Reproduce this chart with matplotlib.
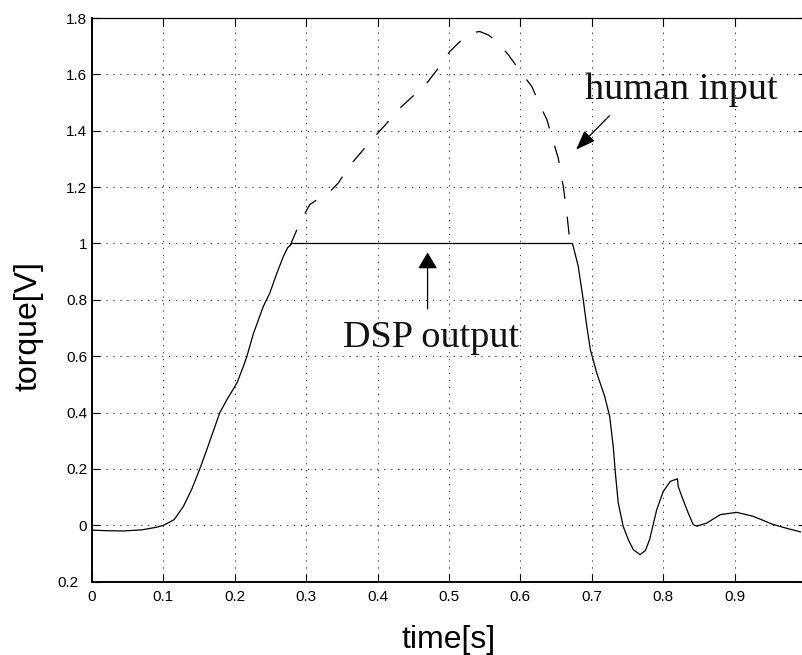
import matplotlib
matplotlib.use('Agg')
import matplotlib.pyplot as plt
import matplotlib.transforms as mtrans

plt.rcParams['lines.scale_dashes'] = False

# DSP output (solid) - time [s], torque [V]
dsp_t = [0.0, 0.02, 0.044, 0.07, 0.09, 0.1, 0.115, 0.128, 0.14, 0.151, 0.161,
         0.17, 0.179, 0.189, 0.203, 0.212, 0.217, 0.226, 0.24, 0.249, 0.259,
         0.268, 0.274, 0.28, 0.673, 0.681, 0.688, 0.693, 0.698, 0.707, 0.718,
         0.725, 0.73, 0.733, 0.737, 0.744, 0.751, 0.758, 0.7675, 0.775, 0.781,
         0.791, 0.8, 0.81, 0.82, 0.821, 0.826, 0.835, 0.842, 0.847, 0.861,
         0.88, 0.903, 0.926, 0.954, 0.975, 0.992]
dsp_v = [-0.017, -0.019, -0.02, -0.016, -0.007, 0.0, 0.02, 0.067, 0.13, 0.2, 0.27,
         0.335, 0.40, 0.446, 0.505, 0.564, 0.6, 0.68, 0.777, 0.824, 0.895,
         0.954, 0.985, 1.0, 1.0, 0.919, 0.80, 0.706, 0.623, 0.54, 0.458,
         0.387, 0.28, 0.186, 0.08, -0.004, -0.05, -0.086, -0.104, -0.09, -0.05,
         0.056, 0.12, 0.156, 0.165, 0.138, 0.103, 0.044, 0.003, -0.003, 0.008,
         0.038, 0.046, 0.032, 0.003, -0.012, -0.023]

# human input (dashed)
human_t = [0.277, 0.291, 0.305, 0.315, 0.326, 0.345, 0.36, 0.378, 0.394, 0.413,
           0.429, 0.45, 0.469, 0.485, 0.501, 0.52, 0.532, 0.543, 0.555, 0.567,
           0.583, 0.6, 0.616, 0.627, 0.637, 0.646, 0.653, 0.66, 0.665, 0.669, 0.671]
human_v = [0.99, 1.073, 1.138, 1.155, 1.165, 1.215, 1.273, 1.327, 1.374, 1.427,
           1.475, 1.524, 1.569, 1.622, 1.681, 1.728, 1.748, 1.752, 1.74, 1.717,
           1.67, 1.61, 1.557, 1.492, 1.44, 1.362, 1.303, 1.203, 1.108, 1.013, 1.0]

xticks = [0, 0.1, 0.2, 0.3, 0.4, 0.5, 0.6, 0.7, 0.8, 0.9]
xticklabels = ['0', '0.1', '0.2', '0.3', '0.4', '0.5', '0.6', '0.7', '0.8', '0.9']
yticks = [-0.2, 0, 0.2, 0.4, 0.6, 0.8, 1.0, 1.2, 1.4, 1.6, 1.8]
yticklabels = ['0.2', '0', '0.2', '0.4', '0.6', '0.8', '1', '1.2', '1.4', '1.6', '1.8']

fig = plt.figure(figsize=(8.02, 6.55), dpi=100)
ax = fig.add_axes([92 / 802, 73.3 / 655, 714 / 802, 563.7 / 655])

ax.plot(dsp_t, dsp_v, color='black', lw=0.9)
ax.plot(human_t, human_v, color='black', lw=0.9, dashes=(13, 13))

ax.set_xlim(0, 1)
ax.set_ylim(-0.2, 1.8)
ax.set_xticks(xticks)
ax.set_xticklabels(xticklabels, family='Liberation Sans', fontsize=11)
ax.set_yticks(yticks)
ax.set_yticklabels(yticklabels, family='Liberation Sans', fontsize=11)
ax.tick_params(direction='in', length=6, width=0.8, top=True, right=True)
ax.tick_params(axis='x', pad=6)
ax.tick_params(axis='y', pad=3.5)

# the minus sign of the lowest label is missing, keep its place
lbl = ax.get_yticklabels()[0]
lbl.set_transform(lbl.get_transform() + mtrans.ScaledTranslation(-9 / 100, 0, fig.dpi_scale_trans))

ax.grid(True, color='#444444', lw=0.7, linestyle=(0, (1, 4)))

ax.spines['left'].set_linewidth(1.4)
ax.spines['bottom'].set_linewidth(1.4)
ax.spines['top'].set_linewidth(0.9)

ax.set_xlabel('time[s]', family='Liberation Sans', fontsize=23)
ax.set_ylabel('torque[V]', family='Liberation Sans', fontsize=23)
ax.xaxis.set_label_coords(0.499, -0.077)
ax.yaxis.set_label_coords(-0.068, 0.4536)

ax.annotate('', xy=(0.678, 1.333), xytext=(0.7245, 1.453),
            arrowprops=dict(arrowstyle='-|>,head_length=0.8,head_width=0.3',
                            mutation_scale=15, color='black', lw=0.9,
                            shrinkA=0, shrinkB=0))
ax.text(0.69, 1.514, 'human input', family='Liberation Serif', fontsize=27.5,
        ha='left', va='baseline', color='#111111')

ax.annotate('', xy=(0.470, 0.968), xytext=(0.470, 0.768),
            arrowprops=dict(arrowstyle='-|>,head_length=0.67,head_width=0.4',
                            mutation_scale=15, color='black', lw=0.9,
                            shrinkA=0, shrinkB=0))
ax.text(0.352, 0.634, 'DSP output', family='Liberation Serif', fontsize=27.5,
        ha='left', va='baseline', color='#111111')

fig.savefig('out.png', dpi=100)
